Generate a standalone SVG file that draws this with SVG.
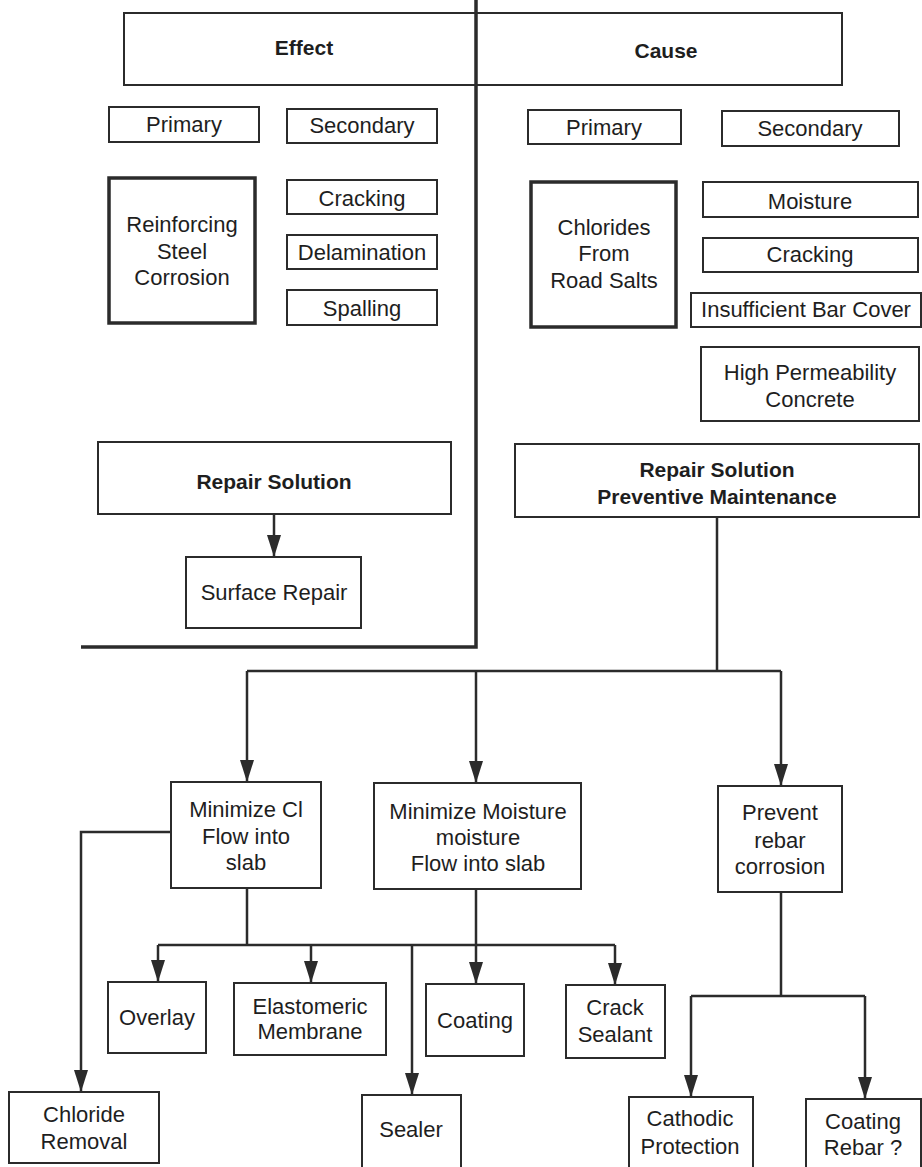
<svg xmlns="http://www.w3.org/2000/svg" width="922" height="1167" viewBox="0 0 922 1167">
<style>
.b{fill:#fff;stroke:#2b2b2b;stroke-width:2}
.tb{fill:#fff;stroke:#2b2b2b;stroke-width:3.5}
.t{font-family:"Liberation Sans",Arial,sans-serif;font-size:22px;fill:#1e1e1e;text-anchor:middle}
.bd{font-family:"Liberation Sans",Arial,sans-serif;font-size:21px;font-weight:bold;fill:#1e1e1e;text-anchor:middle}
.c{fill:none;stroke:#2b2b2b;stroke-width:2.5}
.a{fill:none;stroke:#2b2b2b;stroke-width:2.5;marker-end:url(#ah)}
.d{fill:none;stroke:#2b2b2b;stroke-width:3.5}
</style>
<defs>
<marker id="ah" viewBox="0 0 22 14" refX="22" refY="7" markerWidth="22" markerHeight="14" orient="auto" markerUnits="userSpaceOnUse">
<path d="M0,0 L22,7 L0,14 z" fill="#2b2b2b"/>
</marker>
</defs>
<rect width="922" height="1167" fill="#fff"/>
<g id="connectors">
<path class="d" d="M476,0 V647 H81"/>
<path class="a" d="M274,514 V557"/>
<path class="c" d="M717,517 V671 M247,671 H781"/>
<path class="a" d="M247,671 V782"/>
<path class="a" d="M476,671 V783"/>
<path class="a" d="M781,671 V786"/>
<path class="a" d="M171,832 H81 V1092"/>
<path class="c" d="M247,888 V945 M158,945 H615"/>
<path class="a" d="M158,945 V982"/>
<path class="a" d="M311,945 V983"/>
<path class="a" d="M476,889 V984"/>
<path class="a" d="M615,945 V985"/>
<path class="a" d="M412,945 V1095"/>
<path class="c" d="M781,892 V996 M691,996 H865"/>
<path class="a" d="M691,996 V1097"/>
<path class="a" d="M865,996 V1099"/>
</g>
<g id="effect-cause"><rect class="b" x="124" y="13" width="718" height="72"/><path class="d" d="M476,13 V85"/><text class="bd" x="304" y="55">Effect</text><text class="bd" x="666" y="58">Cause</text></g>
<g id="primary-l"><rect class="b" x="109" y="107" width="150" height="35"/><text class="t" x="184" y="132">Primary</text></g>
<g id="secondary-l"><rect class="b" x="287" y="109" width="150" height="34"/><text class="t" x="362" y="133">Secondary</text></g>
<g id="primary-r"><rect class="b" x="528" y="110" width="153" height="34"/><text class="t" x="604" y="135">Primary</text></g>
<g id="secondary-r"><rect class="b" x="722" y="111" width="177" height="35"/><text class="t" x="810" y="136">Secondary</text></g>
<g id="reinforcing"><rect class="tb" x="109" y="178" width="146" height="145"/><text class="t" x="182" y="232">Reinforcing</text><text class="t" x="182" y="259">Steel</text><text class="t" x="182" y="285">Corrosion</text></g>
<g id="cracking-l"><rect class="b" x="287" y="180" width="150" height="34"/><text class="t" x="362" y="206">Cracking</text></g>
<g id="delamination"><rect class="b" x="287" y="235" width="150" height="34"/><text class="t" x="362" y="260">Delamination</text></g>
<g id="spalling"><rect class="b" x="287" y="290" width="150" height="35"/><text class="t" x="362" y="316">Spalling</text></g>
<g id="chlorides"><rect class="tb" x="531" y="182" width="145" height="145"/><text class="t" x="604" y="235">Chlorides</text><text class="t" x="604" y="261">From</text><text class="t" x="604" y="288">Road Salts</text></g>
<g id="moisture"><rect class="b" x="703" y="182" width="215" height="35"/><text class="t" x="810" y="209">Moisture</text></g>
<g id="cracking-r"><rect class="b" x="703" y="238" width="215" height="34"/><text class="t" x="810" y="262">Cracking</text></g>
<g id="bar-cover"><rect class="b" x="691" y="293" width="230" height="34"/><text class="t" x="806" y="317">Insufficient Bar Cover</text></g>
<g id="permeability"><rect class="b" x="701" y="347" width="218" height="74"/><text class="t" x="810" y="380">High Permeability</text><text class="t" x="810" y="407">Concrete</text></g>
<g id="repair-l"><rect class="b" x="98" y="442" width="353" height="72"/><text class="bd" x="274" y="489">Repair Solution</text></g>
<g id="repair-r"><rect class="b" x="515" y="444" width="404" height="73"/><text class="bd" x="717" y="477">Repair Solution</text><text class="bd" x="717" y="504">Preventive Maintenance</text></g>
<g id="surface-repair"><rect class="b" x="186" y="557" width="175" height="71"/><text class="t" x="274" y="600">Surface Repair</text></g>
<g id="min-cl"><rect class="b" x="171" y="782" width="150" height="106"/><text class="t" x="246" y="817">Minimize Cl</text><text class="t" x="246" y="844">Flow into</text><text class="t" x="246" y="870">slab</text></g>
<g id="min-moisture"><rect class="b" x="374" y="783" width="207" height="106"/><text class="t" x="478" y="819">Minimize Moisture</text><text class="t" x="478" y="845">moisture</text><text class="t" x="478" y="871">Flow into slab</text></g>
<g id="prevent"><rect class="b" x="718" y="786" width="124" height="106"/><text class="t" x="780" y="820">Prevent</text><text class="t" x="780" y="848">rebar</text><text class="t" x="780" y="874">corrosion</text></g>
<g id="overlay"><rect class="b" x="108" y="982" width="98" height="71"/><text class="t" x="157" y="1025">Overlay</text></g>
<g id="elastomeric"><rect class="b" x="234" y="983" width="152" height="72"/><text class="t" x="310" y="1014">Elastomeric</text><text class="t" x="310" y="1039">Membrane</text></g>
<g id="coating"><rect class="b" x="426" y="984" width="98" height="72"/><text class="t" x="475" y="1028">Coating</text></g>
<g id="crack-sealant"><rect class="b" x="566" y="985" width="99" height="73"/><text class="t" x="615" y="1015">Crack</text><text class="t" x="615" y="1042">Sealant</text></g>
<g id="chloride-removal"><rect class="b" x="9" y="1092" width="150" height="71"/><text class="t" x="84" y="1122">Chloride</text><text class="t" x="84" y="1149">Removal</text></g>
<g id="sealer"><rect class="b" x="362" y="1095" width="99" height="74"/><text class="t" x="411" y="1137">Sealer</text></g>
<g id="cathodic"><rect class="b" x="629" y="1097" width="124" height="72"/><text class="t" x="690" y="1126">Cathodic</text><text class="t" x="690" y="1154">Protection</text></g>
<g id="coating-rebar"><rect class="b" x="806" y="1099" width="115" height="70"/><text class="t" x="863" y="1129">Coating</text><text class="t" x="863" y="1155">Rebar ?</text></g>
</svg>
